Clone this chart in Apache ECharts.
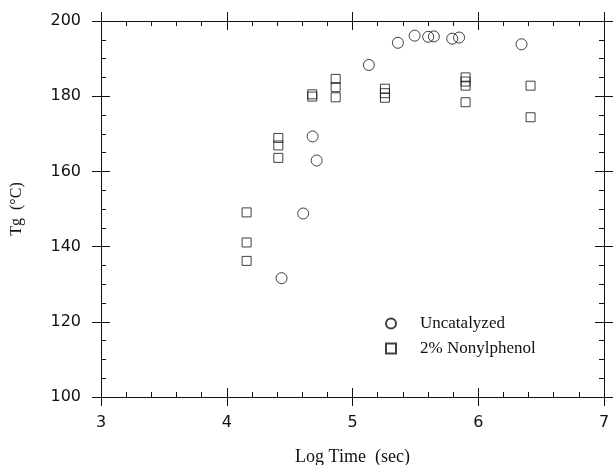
<!DOCTYPE html>
<html>
<head>
<meta charset="utf-8">
<script src="https://cdn.jsdelivr.net/npm/echarts@6/dist/echarts.min.js"></script>
<style>
  html, body { margin: 0; padding: 0; background: #fff; }
  #chart { width: 613px; height: 465px; }
</style>
</head>
<body>
<div id="chart"></div>
<script>
// Tg vs log time
const uncatX = [4.436, 4.608, 4.683, 4.715, 5.130, 5.361, 5.494, 5.602, 5.647, 5.793, 5.848, 6.344];
const uncatY = [131.6, 148.8, 169.3, 162.9, 188.3, 194.2, 196.1, 195.8, 195.9, 195.3, 195.6, 193.8];
const nonylX = [4.158, 4.158, 4.158, 4.41, 4.41, 4.41, 4.68, 4.68, 4.866, 4.866, 4.866,
  5.258, 5.258, 5.258, 5.899, 5.899, 5.899, 5.899, 6.416, 6.416];
const nonylY = [149.1, 141.1, 136.2, 168.9, 166.9, 163.6, 180.5, 179.9, 184.6, 182.4, 179.7,
  182.0, 180.8, 179.6, 185.0, 183.9, 182.8, 178.4, 182.8, 174.4];
const seriesNames = ["Uncatalyzed", "2% Nonylphenol"];

const pairs = (xs, ys) => xs.map((x, i) => [x, ys[i]]);
const ink = "#111";
const sans = "DejaVu Sans";
const serif = "Liberation Serif";

// one axis with labels + inside ticks, a twin for the outer half of the major ticks,
// and the same again mirrored on the opposite side
function xAxisDef(pos, labels, outer) {
  return {
    type: "value", position: pos, min: 3, max: 7, interval: 1, offset: 0,
    name: labels ? "Log Time  (sec)" : "", nameLocation: "middle", nameGap: 51,
    nameTextStyle: { fontFamily: serif, fontSize: 18, color: ink },
    axisLine: { show: !outer, onZero: false, lineStyle: { color: ink, width: 1 } },
    axisTick: { show: true, inside: !outer, length: 9, lineStyle: { color: ink } },
    minorTick: { show: !outer, splitNumber: 5, length: 5, lineStyle: { color: ink } },
    axisLabel: { show: labels, margin: 18, fontFamily: sans, fontSize: 16, color: ink },
    splitLine: { show: false }
  };
}
function yAxisDef(pos, labels, outer) {
  return {
    type: "value", position: pos, min: 100, max: 200, interval: 20, offset: 0,
    name: labels ? "Tg  (°C)" : "", nameLocation: "middle", nameGap: 76,
    nameTextStyle: { fontFamily: serif, fontSize: 16, color: ink },
    axisLine: { show: !outer, onZero: false, lineStyle: { color: ink, width: 1 } },
    axisTick: { show: true, inside: !outer, length: 9, lineStyle: { color: ink } },
    minorTick: { show: !outer, splitNumber: 4, length: 5, lineStyle: { color: ink } },
    axisLabel: { show: labels, margin: 20, fontFamily: sans, fontSize: 16, color: ink },
    splitLine: { show: false }
  };
}

const chart = echarts.init(document.getElementById("chart"), null, { renderer: "canvas" });
chart.setOption({
  backgroundColor: "#fff",
  animation: false,
  grid: { left: 101, right: 9, top: 21, bottom: 68, containLabel: false, outerBoundsMode: "none" },
  legend: {
    orient: "vertical", left: 380, top: 310,
    itemWidth: 10, itemHeight: 10, itemGap: 8,
    data: seriesNames,
    textStyle: { fontFamily: serif, fontSize: 17, color: ink, padding: [0, 0, 0, 19] }
  },
  xAxis: [
    xAxisDef("bottom", true, false), xAxisDef("bottom", false, true),
    xAxisDef("top", false, false), xAxisDef("top", false, true)
  ],
  yAxis: [
    yAxisDef("left", true, false), yAxisDef("left", false, true),
    yAxisDef("right", false, false), yAxisDef("right", false, true)
  ],
  series: [
    {
      name: seriesNames[0], type: "scatter", symbol: "circle", symbolSize: 11,
      itemStyle: { color: "rgba(0,0,0,0)", borderColor: ink, borderWidth: 1 },
      data: pairs(uncatX, uncatY)
    },
    {
      name: seriesNames[1], type: "scatter", symbol: "rect", symbolSize: 9,
      itemStyle: { color: "rgba(0,0,0,0)", borderColor: ink, borderWidth: 1 },
      data: pairs(nonylX, nonylY)
    }
  ]
});
</script>
</body>
</html>
